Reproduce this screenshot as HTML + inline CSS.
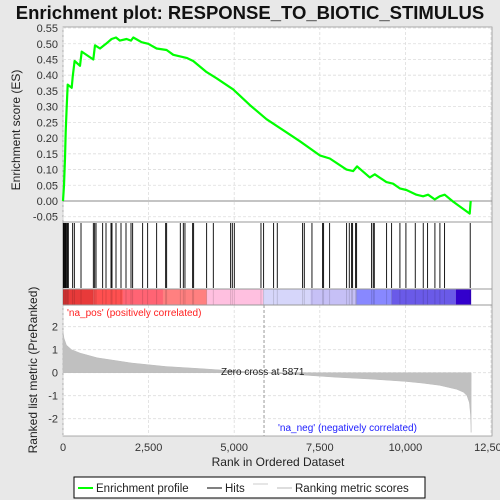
<!DOCTYPE html>
<html><head><meta charset="utf-8"><style>
body{margin:0;background:#e8e8e8;}
svg{display:block;font-family:"Liberation Sans","DejaVu Sans",sans-serif;}
</style></head><body>
<svg id="c" width="500" height="500" viewBox="0 0 500 500">
<rect x="0" y="0" width="500" height="500" fill="#e8e8e8"/>
<text x="250" y="19" text-anchor="middle" font-size="18.5" font-weight="bold" fill="#111">Enrichment plot: RESPONSE_TO_BIOTIC_STIMULUS</text>
<rect x="63" y="27" width="429" height="409" fill="#fff" stroke="#999" stroke-width="0.8"/>
<g id="es"></g><g id="hits"></g><g id="bar"></g><g id="metric"></g>
<text transform="translate(20,130) rotate(-90)" text-anchor="middle" font-size="12" fill="#222">Enrichment score (ES)</text>
<text transform="translate(37,370) rotate(-90)" text-anchor="middle" font-size="12" fill="#222">Ranked list metric (PreRanked)</text>
<text x="278" y="466" text-anchor="middle" font-size="12" fill="#222">Rank in Ordered Dataset</text>
<text x="67" y="316" font-size="10" fill="#ff2020">'na_pos' (positively correlated)</text>
<text x="278" y="431" font-size="10" fill="#2020ff">'na_neg' (negatively correlated)</text>
<text x="221" y="375" font-size="10" fill="#222">Zero cross at 5871</text>
<g>
<rect x="74" y="477" width="351" height="21" fill="#fff" stroke="#000" stroke-width="1"/>
<line x1="78" y1="488" x2="93" y2="488" stroke="#00ff00" stroke-width="2"/>
<text x="96" y="492" font-size="11.5" fill="#222">Enrichment profile</text>
<line x1="207" y1="488" x2="222" y2="488" stroke="#000" stroke-width="1"/>
<text x="225" y="492" font-size="11.5" fill="#222">Hits</text>
<line x1="253" y1="484" x2="268" y2="484" stroke="#ccc" stroke-width="1"/>
<line x1="277" y1="488" x2="292" y2="488" stroke="#bbb" stroke-width="1"/>
<text x="295" y="492" font-size="11.5" fill="#222">Ranking metric scores</text>
</g>
</svg>
<script>
const esRanks=[0,29,58,78,107,136,253,282,340,496,545,885,934,1080,1255,1420,1547,1663,1858,1985,2053,2296,2490,2733,3025,3220,3609,3804,4193,4485,4971,5458,5944,6430,6917,7500,7792,8279,8473,8590,8959,9105,9446,9640,9835,10030,10321,10516,10662,10856,11002,11148,11392,11878,11907];
const esValues=[0,0.05,0.135,0.22,0.30,0.37,0.36,0.395,0.445,0.43,0.475,0.45,0.495,0.485,0.50,0.515,0.52,0.51,0.515,0.51,0.52,0.505,0.50,0.485,0.48,0.465,0.455,0.445,0.41,0.39,0.355,0.305,0.26,0.225,0.19,0.145,0.135,0.10,0.095,0.11,0.075,0.085,0.06,0.055,0.04,0.035,0.02,0.015,0.02,0.005,0.015,0.02,-0.002,-0.04,0];
const hitRanks=[10,30,58,80,107,130,156,282,331,526,886,925,964,1158,1256,1402,1431,1548,1694,1840,1986,2034,2326,2472,2735,2998,3027,3426,3514,3562,3786,3815,4195,4390,4896,4945,5003,5782,5859,6151,6258,6998,7047,7271,7582,7611,7787,8283,8361,8429,8458,8546,8575,9013,9061,9091,9451,9597,9840,10015,10288,10521,10648,10862,11008,11144,11893];
const metricRanks=[0,30,100,250,500,1000,2000,3000,4000,5000,5871,7000,8000,9000,10000,10500,11000,11500,11700,11800,11870,11900,11915,11920];
const metricValues=[1.8,1.5,1.2,1.0,0.85,0.65,0.42,0.27,0.18,0.08,0,-0.1,-0.2,-0.28,-0.38,-0.45,-0.55,-0.72,-0.85,-1.0,-1.3,-1.8,-2.3,-2.6];
const esTicks=[0.55,0.5,0.45,0.4,0.35,0.3,0.25,0.2,0.15,0.1,0.05,0,-0.05];
const esTickLabels=["0.55","0.50","0.45","0.40","0.35","0.30","0.25","0.20","0.15","0.10","0.05","0.00","-0.05"];
const xTicks=[0,2500,5000,7500,10000,12500];
const xTickLabels=["0","2,500","5,000","7,500","10,000","12,500"];
const mTicks=[2,1,0,-1,-2];
const barStops=[0,880,1750,2920,4200,5850,7225,8570,9600,11470,11920];
const barColors=["#e83a3a","#ff5050","#ff6474","#ff8080","#ffc0e0","#d6d6fa","#c6c0f6","#8888ff","#6a5ae8","#3300cc"];
const NS="http://www.w3.org/2000/svg";
const X=r=>63+r*428/12500;
const Y=v=>201-v*314.5;
const M=v=>372.7-v*23;
function mk(t,a,p){const e=document.createElementNS(NS,t);for(const k in a)e.setAttribute(k,a[k]);p.appendChild(e);return e;}
const es=document.getElementById('es'),hits=document.getElementById('hits'),bar=document.getElementById('bar'),met=document.getElementById('metric'),svg=document.getElementById('c');
// grid & ticks
esTicks.forEach((v,i)=>{
 const g=mk('line',{x1:63,x2:492,y1:Y(v),y2:Y(v),stroke:v===0?'#888':'#ddd','stroke-dasharray':v===0?'':'3,2','stroke-width':v===0?1:0.8},es);
 
 
 const t=mk('text',{x:58,y:Y(v)+4,'text-anchor':'end','font-size':11,fill:'#333'},es);t.textContent=esTickLabels[i];
 
 
});
xTicks.forEach((v,i)=>{
 [[27,222],[305,436]].forEach(([a,b])=>{const l=mk('line',{x1:X(v),x2:X(v),y1:a,y2:b,stroke:'#ddd','stroke-dasharray':'3,2','stroke-width':0.8},es);
 
 });
 const t=mk('text',{x:X(v),y:451,'text-anchor':'middle','font-size':11,fill:'#333'},svg);t.textContent=xTickLabels[i];
 
 
});
mk('line',{x1:63,x2:492,y1:222,y2:222,stroke:'#999'},svg);
mk('line',{x1:63,x2:492,y1:289,y2:289,stroke:'#999'},svg);
mk('line',{x1:63,x2:492,y1:305,y2:305,stroke:'#999'},svg);
// ES line
let d=esRanks.map((r,i)=>(i?'L':'M')+X(r).toFixed(1)+','+Y(esValues[i]).toFixed(1)).join('');
const p=mk('path',{d:d,fill:'none',stroke:'#00ff00','stroke-width':2.2,'stroke-linejoin':'round'},es);


// hits
hitRanks.forEach(r=>{const l=mk('line',{x1:X(r),x2:X(r),y1:223,y2:288,stroke:'#000','stroke-width':0.9},hits);
 
 });
// color bar
barColors.forEach((c,i)=>{const r=mk('rect',{x:X(barStops[i]),y:289.5,width:X(barStops[i+1])-X(barStops[i]),height:15,fill:c},bar);
 
 });
hitRanks.forEach(r=>{const l=mk('line',{x1:X(r),x2:X(r),y1:289.5,y2:304.5,stroke:'rgba(0,0,0,0.15)','stroke-width':0.9},bar);
 
 });
// metric
mTicks.forEach(v=>{const l=mk('line',{x1:63,x2:492,y1:M(v),y2:M(v),stroke:'#ddd','stroke-dasharray':'3,2','stroke-width':0.8},met);
 
 
 const t=mk('text',{x:58,y:M(v)+4,'text-anchor':'end','font-size':11,fill:'#333'},met);t.textContent=String(v);
 
 });
let md='M'+X(0)+','+M(0)+metricRanks.map((r,i)=>'L'+X(r).toFixed(1)+','+M(metricValues[i]).toFixed(1)).join('')+'L'+X(metricRanks[metricRanks.length-1])+','+M(0)+'Z';
const a=mk('path',{d:md,fill:'#c0c0c0',stroke:'#bbb','stroke-width':0.5},met);


const z=mk('line',{x1:X(5871),x2:X(5871),y1:305,y2:436,stroke:'#999','stroke-dasharray':'3,2'},met);


</script>
</body></html>
